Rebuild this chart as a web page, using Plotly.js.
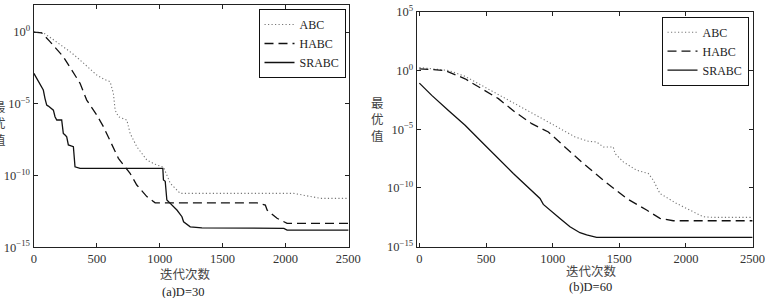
<!DOCTYPE html>
<html>
<head>
<meta charset="utf-8">
<script src="https://cdn.plot.ly/plotly-3.0.1.min.js"></script>
<style>html,body{margin:0;padding:0;background:#fff;}#chart{width:765px;height:298px;}</style>
</head>
<body>
<div id="chart"></div>
<script>
// ---- Data (y given as log10 of best value) ----
const seriesNames = ['ABC', 'HABC', 'SRABC'];

// (a) D=30
const abc30_x   = [0, 75, 150, 234, 300, 367, 430, 500, 560, 606, 632, 646, 672, 739, 765, 818, 898, 960, 1018, 1030, 1084, 1163, 2065, 2198, 2278, 2500];
const abc30_log = [0, -0.05, -0.5, -1.02, -1.45, -1.95, -2.45, -3.0, -3.3, -3.46, -4.27, -5.44, -5.9, -6.13, -7.06, -7.99, -8.92, -9.2, -9.39, -9.4, -10.54, -11.24, -11.24, -11.48, -11.59, -11.59];

const habc30_x   = [0, 62, 128, 234, 301, 367, 420, 500, 553, 606, 672, 765, 818, 898, 964, 1774, 1840, 1854, 1933, 2013, 2500];
const habc30_log = [0, -0.05, -0.67, -1.72, -2.65, -3.57, -4.74, -5.78, -6.6, -7.53, -8.8, -9.85, -10.66, -11.47, -11.9, -11.9, -12.06, -12.4, -12.98, -13.33, -13.33];

const srabc30_x   = [0, 22, 49, 62, 75, 88, 102, 115, 142, 155, 168, 182, 221, 234, 248, 261, 274, 314, 327, 367, 1025, 1030, 1044, 1057, 1084, 1137, 1177, 1190, 1243, 1336, 1987, 2013, 2500];
const srabc30_log = [-2.88, -3.23, -3.57, -3.81, -4.04, -4.62, -5.09, -5.16, -5.32, -5.44, -5.9, -6.13, -6.13, -7.06, -7.18, -7.3, -7.87, -7.99, -9.39, -9.5, -9.5, -10.31, -10.4, -11.7, -11.94, -12.4, -12.87, -13.22, -13.57, -13.64, -13.68, -13.8, -13.8];

// (b) D=60
const abc60_x   = [0, 218, 343, 468, 718, 968, 1168, 1268, 1330, 1380, 1455, 1468, 1530, 1630, 1718, 1755, 1805, 1930, 2055, 2130, 2200, 2500];
const abc60_log = [0.25, 0, -0.5, -1.27, -2.83, -4.39, -5.66, -6.03, -6.09, -6.51, -6.51, -7.07, -7.78, -8.49, -8.77, -9.34, -10.47, -11.32, -12.03, -12.45, -12.5, -12.5];

const habc60_x   = [0, 193, 343, 468, 593, 718, 843, 968, 1093, 1218, 1380, 1455, 1555, 1705, 1805, 1905, 2500];
const habc60_log = [0.14, 0, -0.71, -1.56, -2.4, -3.54, -4.53, -5.24, -6.5, -7.8, -9.34, -10.04, -10.89, -11.88, -12.59, -12.79, -12.79];

const srabc60_x   = [0, 93, 218, 343, 468, 593, 705, 905, 930, 1055, 1130, 1205, 1255, 1330, 2500];
const srabc60_log = [-1.08, -2.12, -3.4, -4.67, -6.09, -7.5, -8.77, -10.9, -11.4, -12.59, -13.3, -13.81, -14.0, -14.2, -14.2];

// Tick labels
const xTickVals = [0, 500, 1000, 1500, 2000, 2500];
const xTickText = ['0', '500', '1000', '1500', '2000', '2500'];
const yTickValsA = [1e-15, 1e-10, 1e-5, 1];
const yTickTextA = ['10<sup>−15</sup>', '10<sup>−10</sup>', '10<sup>−5</sup>', '10<sup>0</sup>'];
const yTickValsB = [1e-15, 1e-10, 1e-5, 1, 1e5];
const yTickTextB = ['10<sup>−15</sup>', '10<sup>−10</sup>', '10<sup>−5</sup>', '10<sup>0</sup>', '10<sup>5</sup>'];
const xTitle = '迭代次数';
const yTitle = '最<br>优<br>值';
const subA = '(a)D=30';
const subB = '(b)D=60';

// ---- Build ----
const pow = a => a.map(v => Math.pow(10, v));
const W = 765, H = 298;
const px = v => v / W, py = v => (H - v) / H;

const styles = [
  {color: '#777', width: 1.1, dash: '1.2px,2.3px'},
  {color: '#111', width: 1.3, dash: '9px,5px'},
  {color: '#111', width: 1.3, dash: 'solid'}
];

const dataA = [[abc30_x, abc30_log], [habc30_x, habc30_log], [srabc30_x, srabc30_log]];
const dataB = [[abc60_x, abc60_log], [habc60_x, habc60_log], [srabc60_x, srabc60_log]];

const traces = [];
dataA.forEach((d, i) => traces.push({
  x: d[0], y: pow(d[1]), type: 'scatter', mode: 'lines', name: seriesNames[i],
  line: styles[i], xaxis: 'x', yaxis: 'y', legend: 'legend'
}));
dataB.forEach((d, i) => traces.push({
  x: d[0], y: pow(d[1]), type: 'scatter', mode: 'lines', name: seriesNames[i],
  line: styles[i], xaxis: 'x2', yaxis: 'y2', legend: 'legend2'
}));

const SERIF = '"Liberation Serif", "Times New Roman", serif';
const tickFont = {family: SERIF, size: 12.5, color: '#333'};
const axisCommon = {
  showline: true, mirror: 'ticks', linecolor: '#222', linewidth: 1,
  ticks: 'inside', ticklen: 4, tickcolor: '#222', tickwidth: 1,
  showgrid: false, zeroline: false, tickfont: tickFont,
  ticklabeloverflow: 'allow'
};

const legendCommon = {
  bgcolor: '#fff', bordercolor: '#111', borderwidth: 1,
  font: {family: SERIF, size: 12, color: '#222'},
  xanchor: 'right', yanchor: 'top', tracegroupgap: 0, itemwidth: 30
};

const cjkFont = {family: 'Noto Sans CJK SC', size: 12.5, color: '#444'};
const serifFont = {family: SERIF, size: 12.5, color: '#222'};

const layout = {
  width: W, height: H,
  margin: {l: 0, r: 0, t: 0, b: 0},
  paper_bgcolor: '#fff', plot_bgcolor: '#fff',
  font: {family: SERIF},
  showlegend: true,
  xaxis: Object.assign({}, axisCommon, {domain: [px(33.5), px(349)], range: [-3, 2505], tickvals: xTickVals, ticktext: xTickText, anchor: 'y'}),
  yaxis: Object.assign({}, axisCommon, {domain: [py(247.3), py(4.5)], type: 'log', range: [-15, 1.92], tickvals: yTickValsA, ticktext: yTickTextA, anchor: 'x'}),
  xaxis2: Object.assign({}, axisCommon, {domain: [px(416.7), px(752.7)], range: [-20, 2501], tickvals: xTickVals, ticktext: xTickText, anchor: 'y2'}),
  yaxis2: Object.assign({}, axisCommon, {domain: [py(246.7), py(11.7)], type: 'log', range: [-15, 5.001], tickvals: yTickValsB, ticktext: yTickTextB, anchor: 'x2'}),
  legend: Object.assign({}, legendCommon, {x: px(345.5), y: py(9)}),
  legend2: Object.assign({}, legendCommon, {x: px(748.5), y: py(16.7)}),
  annotations: [
    {text: xTitle, xref: 'paper', yref: 'paper', x: px(185), y: py(273.5), xanchor: 'center', yanchor: 'middle', showarrow: false, font: cjkFont},
    {text: subA, xref: 'paper', yref: 'paper', x: px(183), y: py(291.5), xanchor: 'center', yanchor: 'middle', showarrow: false, font: serifFont},
    {text: xTitle, xref: 'paper', yref: 'paper', x: px(591.5), y: py(270.5), xanchor: 'center', yanchor: 'middle', showarrow: false, font: cjkFont},
    {text: subB, xref: 'paper', yref: 'paper', x: px(590), y: py(287), xanchor: 'center', yanchor: 'middle', showarrow: false, font: serifFont},
    {text: yTitle, xref: 'paper', yref: 'paper', x: px(-1), y: py(122.5), xanchor: 'center', yanchor: 'middle', showarrow: false, font: cjkFont},
    {text: yTitle, xref: 'paper', yref: 'paper', x: px(377), y: py(118.5), xanchor: 'center', yanchor: 'middle', showarrow: false, font: cjkFont}
  ]
};

Plotly.newPlot('chart', traces, layout, {displayModeBar: false, staticPlot: true});
</script>
</body>
</html>
